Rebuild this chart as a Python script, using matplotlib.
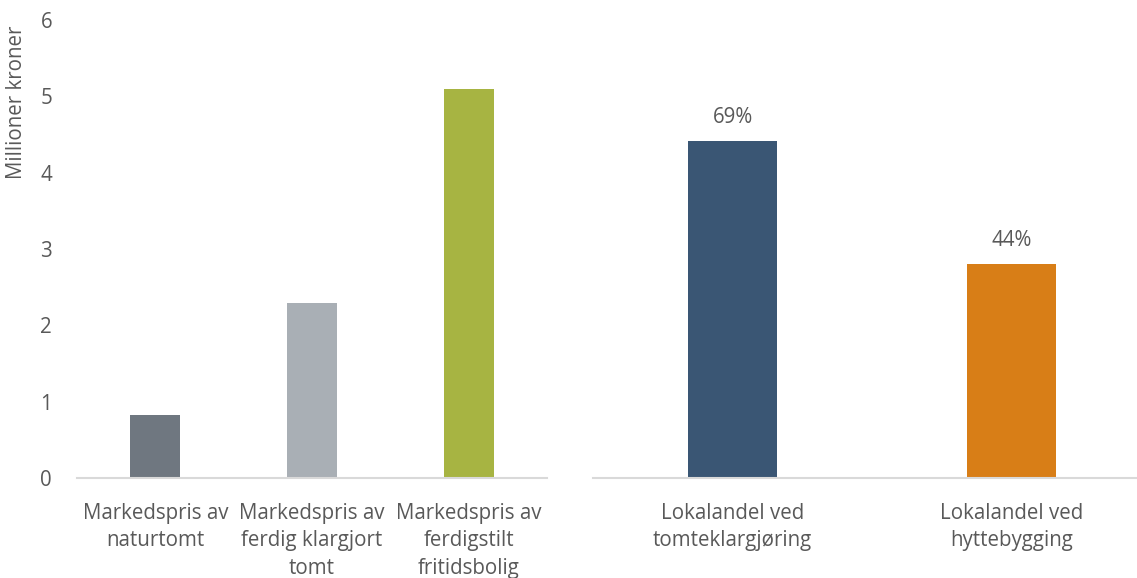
import matplotlib.pyplot as plt

plt.rcParams['font.family'] = ['Open Sans', 'DejaVu Sans']

# --- data ---
left_labels = ["Markedspris av\nnaturtomt", "Markedspris av\nferdig klargjort\ntomt",
               "Markedspris av\nferdigstilt\nfritidsbolig"]
left_values = [0.82, 2.29, 5.10]
left_colors = ["#6F7780", "#A9AFB5", "#A7B442"]

right_labels = ["Lokalandel ved\ntomteklargjøring", "Lokalandel ved\nhyttebygging"]
right_values = [4.42, 2.81]
right_pct = ["69%", "44%"]
right_colors = ["#3A5674", "#D87E17"]

yticks = [0, 1, 2, 3, 4, 5, 6]

TXT = "#595959"
GRID = "#D9D9D9"
W, H = 1137, 578
FS = 14.8

fig = plt.figure(figsize=(W / 100, H / 100), dpi=100)
ax1 = fig.add_axes([77 / W, 100 / H, 470 / W, 458 / H])
ax2 = fig.add_axes([593 / W, 100 / H, 558 / W, 458 / H])

ax1.bar(range(len(left_values)), left_values, width=0.32, color=left_colors)
ax2.bar(range(len(right_values)), right_values, width=0.32, color=right_colors)

for i, (v, p) in enumerate(zip(right_values, right_pct)):
    ax2.annotate(p, (i, v), xytext=(0, 9), textcoords="offset points",
                 ha="center", va="bottom", fontsize=FS, color=TXT)

for ax, labels in ((ax1, left_labels), (ax2, right_labels)):
    ax.set_ylim(0, 6)
    ax.set_xlim(-0.5, len(labels) - 0.5)
    ax.set_xticks(range(len(labels)))
    ax.set_xticklabels(labels, fontsize=FS, color=TXT, linespacing=1.4)
    ax.tick_params(axis="x", length=0, pad=18)
    for s in ("top", "right", "left"):
        ax.spines[s].set_visible(False)
    ax.spines["bottom"].set_color(GRID)
    ax.spines["bottom"].set_linewidth(1.5)

ax1.set_yticks(yticks)
ax1.set_yticklabels([str(t) for t in yticks], fontsize=FS, color=TXT)
ax1.tick_params(axis="y", length=0, pad=18)
ax2.set_yticks([])

fig.text(17 / W, 1 - 102 / H, "Millioner kroner", rotation=90, ha="center", va="center",
         fontsize=FS, color=TXT)

fig.savefig("out.png", dpi=100)
